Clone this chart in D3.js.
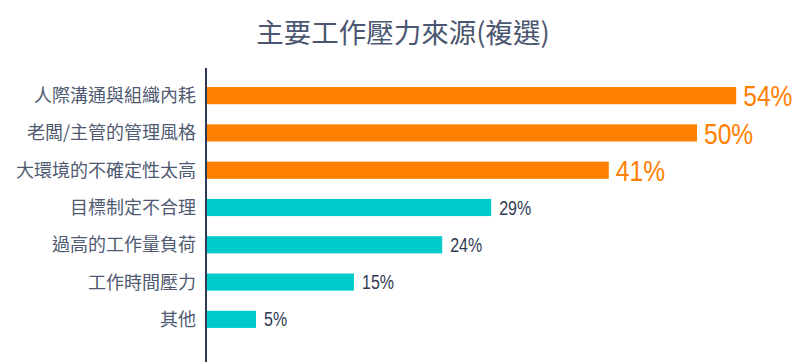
<!DOCTYPE html>
<html>
<head>
<meta charset="utf-8">
<script src="https://cdn.jsdelivr.net/npm/d3@7"></script>
<style>
  body { margin: 0; background: #fff; }
  svg { display: block; }
</style>
</head>
<body>
<div id="chart"></div>
<script>
// Chart data
const categories = ['人際溝通與組織內耗', '老闆/主管的管理風格', '大環境的不確定性太高', '目標制定不合理', '過高的工作量負荷', '工作時間壓力', '其他'];
const values = [54, 50, 41, 29, 24, 15, 5];
const highlighted = [true, true, true, false, false, false, false];  // top three drawn in orange
const title = '主要工作壓力來源(複選)';

const width = 799;
const height = 362;
const margin = { top: 77, right: 0, bottom: 24, left: 207 };

const cjk = '"Noto Sans CJK TC", "Noto Sans CJK SC", sans-serif';
const latin = '"Liberation Sans", Arial, sans-serif';

const svg = d3.select('#chart')
    .append('svg')
    .attr('width', width)
    .attr('height', height);

// 9.8px per percent
const xScale = d3.scaleLinear()
    .domain([0, 60])
    .range([margin.left, margin.left + 588]);

const yScale = d3.scaleBand()
    .domain(categories)
    .range([margin.top, height - margin.bottom])
    .paddingInner(0.54)
    .paddingOuter(0.27);

// Title
svg.append('text')
    .attr('x', 403)
    .attr('y', 43)
    .attr('text-anchor', 'middle')
    .style('font-family', cjk)
    .style('font-size', '27.5px')
    .style('font-weight', 400)
    .attr('fill', '#4b5670')
    .text(title);

// Bars
svg.append('g')
    .selectAll('rect')
    .data(categories)
    .join('rect')
    .attr('x', xScale(0))
    .attr('y', (d) => yScale(d))
    .attr('width', (d, i) => xScale(values[i]) - xScale(0))
    .attr('height', yScale.bandwidth())
    .attr('fill', (d, i) => highlighted[i] ? '#ff7f00' : '#00cbcb');

// Category labels
svg.append('g')
    .selectAll('text')
    .data(categories)
    .join('text')
    .attr('x', 196)
    .attr('y', (d) => yScale(d) + yScale.bandwidth() / 2)
    .attr('dy', '0.36em')
    .attr('text-anchor', 'end')
    .style('font-family', cjk)
    .style('font-size', '18px')
    .attr('fill', '#4f5a72')
    .text((d) => d);

// Value labels, squeezed horizontally to look like a narrow face
svg.append('g')
    .selectAll('text')
    .data(categories)
    .join('text')
    .attr('transform', (d, i) => {
        const x = xScale(values[i]) + (highlighted[i] ? 7 : 8);
        const y = yScale(d) + yScale.bandwidth() / 2;
        return `translate(${x},${y}) scale(0.82,1)`;
    })
    .attr('dy', '0.36em')
    .style('font-family', latin)
    .style('font-size', (d, i) => highlighted[i] ? '30px' : '19.5px')
    .attr('fill', (d, i) => highlighted[i] ? '#ff7f00' : '#2f3a55')
    .text((d, i) => values[i] + '%');

// Axis line
svg.append('line')
    .attr('x1', margin.left - 1)
    .attr('x2', margin.left - 1)
    .attr('y1', 68)
    .attr('y2', height)
    .attr('stroke', '#2d3a55')
    .attr('stroke-width', 2);
</script>
</body>
</html>
